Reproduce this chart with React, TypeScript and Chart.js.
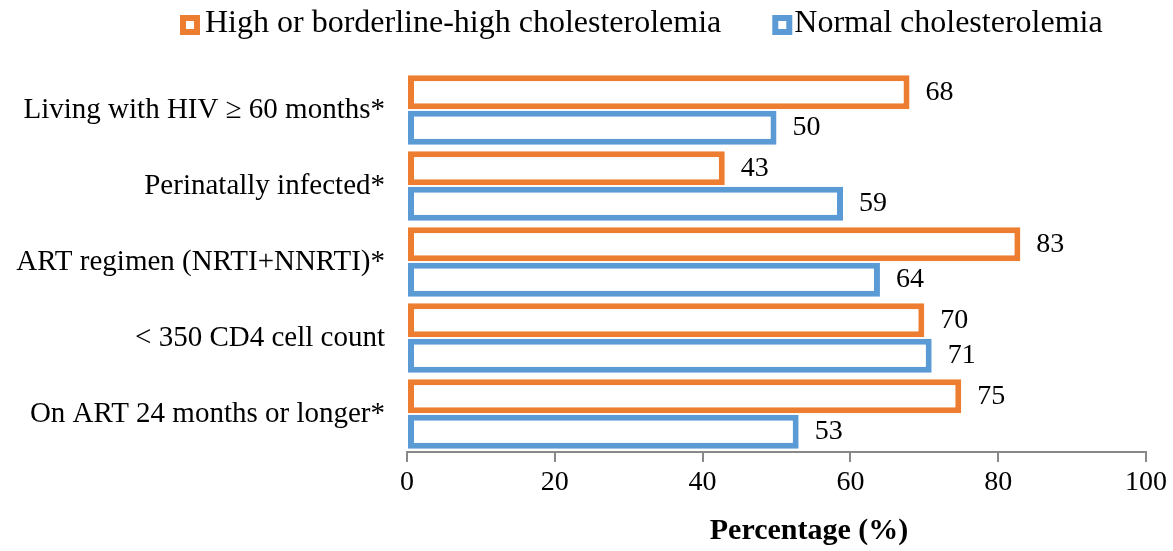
import React, { useEffect, useRef } from "react";
import { Chart, registerables } from "chart.js";

Chart.register(...registerables);

const categories = [
  "Living with HIV ≥ 60 months*",
  "Perinatally infected*",
  "ART regimen (NRTI+NNRTI)*",
  "< 350 CD4 cell count",
  "On ART 24 months or longer*",
];
const highValues = [68, 43, 83, 70, 75];
const normalValues = [50, 59, 64, 71, 53];
const xTicks = [0, 20, 40, 60, 80, 100];
const xTitle = "Percentage (%)";

const ORANGE = "#ED7D31";
const BLUE = "#5B9BD5";
const FONT = "'Liberation Serif', 'Times New Roman', serif";

const valueLabels = {
  id: "valueLabels",
  afterDatasetsDraw(chart: any) {
    const ctx = chart.ctx;
    ctx.save();
    ctx.font = `28px ${FONT}`;
    ctx.fillStyle = "#000";
    ctx.textAlign = "left";
    ctx.textBaseline = "middle";
    chart.data.datasets.forEach((ds: any, di: number) => {
      const meta = chart.getDatasetMeta(di);
      meta.data.forEach((bar: any, i: number) => {
        ctx.fillText(String(ds.data[i]), bar.x + 16, bar.y);
      });
    });
    ctx.restore();
  },
};

const extras = {
  id: "extras",
  afterDraw(chart: any) {
    const ctx = chart.ctx;
    ctx.save();
    // legend
    ctx.font = `32px ${FONT}`;
    ctx.textAlign = "left";
    ctx.textBaseline = "middle";
    let x = 180;
    const boxTop = 15;
    const size = 20;
    const lw = 6;
    chart.data.datasets.forEach((ds: any, i: number) => {
      ctx.fillStyle = "#fff";
      ctx.fillRect(x, boxTop, size, size);
      ctx.strokeStyle = ds.borderColor;
      ctx.lineWidth = lw;
      ctx.strokeRect(x + lw / 2, boxTop + lw / 2, size - lw, size - lw);
      const tx = x + size + (i === 0 ? 5 : 2);
      ctx.fillStyle = "#000";
      ctx.fillText(ds.label, tx, 24);
      x = tx + ctx.measureText(ds.label).width + 51;
    });
    // axis title
    ctx.font = `bold 30px ${FONT}`;
    ctx.textAlign = "center";
    ctx.fillText(xTitle, 809, 531);
    ctx.restore();
  },
};

export default function App() {
  const ref = useRef<HTMLCanvasElement>(null);
  useEffect(() => {
    document.body.style.margin = "0";
    const chart = new Chart(ref.current!, {
      type: "bar",
      data: {
        labels: categories,
        datasets: [
          {
            label: "High or borderline-high cholesterolemia",
            data: highValues,
            backgroundColor: "#fff",
            borderColor: ORANGE,
            borderWidth: 6,
            borderSkipped: false,
            categoryPercentage: 0.934,
            barPercentage: 0.96,
          },
          {
            label: "Normal cholesterolemia",
            data: normalValues,
            backgroundColor: "#fff",
            borderColor: BLUE,
            borderWidth: 6,
            borderSkipped: false,
            categoryPercentage: 0.934,
            barPercentage: 0.96,
          },
        ],
      },
      options: {
        indexAxis: "y",
        animation: false,
        responsive: false,
        layout: { padding: { top: 72, right: 27, left: 0, bottom: 0 } },
        plugins: {
          tooltip: { enabled: false },
          legend: { display: false },
        },
        scales: {
          x: {
            min: 0,
            max: 100,
            afterBuildTicks(scale: any) {
              scale.ticks = xTicks.map((v) => ({ value: v }));
            },
            afterFit(scale: any) {
              scale.height = 99;
            },
            grid: {
              drawOnChartArea: false,
              drawTicks: true,
              tickLength: 10,
              color: "#888",
              lineWidth: 2,
            },
            border: { display: true, color: "#888", width: 2 },
            ticks: {
              font: { family: FONT, size: 28 },
              color: "#000",
              padding: 4,
              maxRotation: 0,
            },
          },
          y: {
            grid: { display: false },
            border: { display: false },
            ticks: {
              font: { family: FONT, size: 29 },
              color: "#000",
              padding: 14,
            },
            afterFit(scale: any) {
              scale.width = 407;
            },
          },
        },
      },
      plugins: [valueLabels, extras],
    } as any);
    return () => chart.destroy();
  }, []);
  return <canvas ref={ref} width={1173} height={551} style={{ display: "block" }} />;
}
